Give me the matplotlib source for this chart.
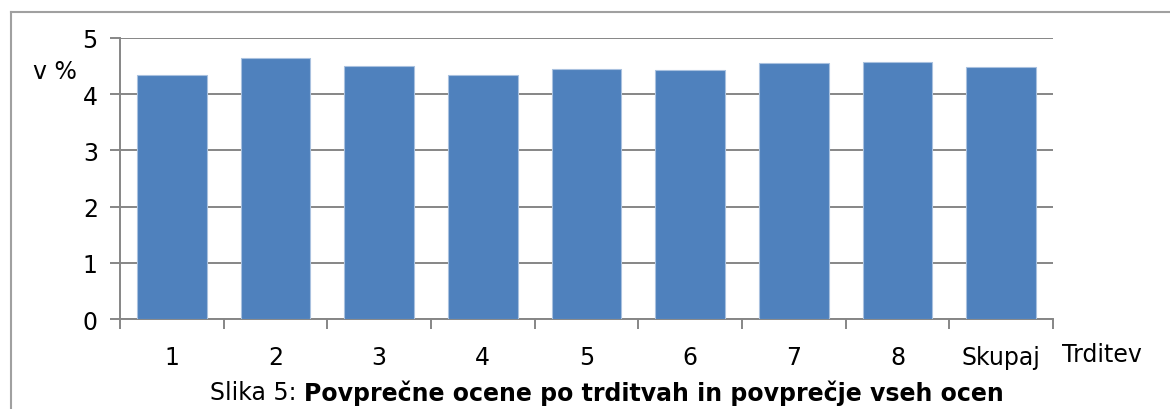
import matplotlib.pyplot as plt
import numpy as np

# povprečne ocene po trditvah
categories = ['1', '2', '3', '4', '5', '6', '7', '8', 'Skupaj']
values = [4.35, 4.64, 4.51, 4.35, 4.45, 4.43, 4.56, 4.57, 4.48]
y_ticks = [0, 1, 2, 3, 4, 5]

plt.rcParams['font.family'] = ['DejaVu Sans']
grid_col = '#868686'
fs = 17

fig = plt.figure(figsize=(11.7, 4.1), dpi=100)
ax = fig.add_axes([120 / 1170, 1 - 320 / 410, 933 / 1170, 281 / 410])

x = np.arange(len(categories))
ax.bar(x, values, width=0.67, color='#4F81BD', edgecolor='#A9C1DF', linewidth=0.8, zorder=3)

ax.set_xlim(-0.5, len(categories) - 0.5)
ax.set_ylim(0, 5)
ax.set_yticks(y_ticks)
ax.set_yticklabels([str(t) for t in y_ticks], fontsize=fs)
ax.yaxis.grid(True, color=grid_col, linewidth=1.4, zorder=0)

# oznake kategorij na sredini, kljukice na mejah
ax.set_xticks(x)
ax.set_xticklabels(categories, fontsize=fs)
ax.tick_params(axis='x', which='major', length=0, pad=19)
ax.set_xticks(np.arange(len(categories) + 1) - 0.5, minor=True)
ax.tick_params(axis='x', which='minor', length=7, width=1.4, color=grid_col)
ax.tick_params(axis='y', length=7, width=1.4, color=grid_col, pad=9)

for s in ['top', 'right']:
    ax.spines[s].set_visible(False)
for s in ['left', 'bottom']:
    ax.spines[s].set_color(grid_col)
    ax.spines[s].set_linewidth(1.4)

fig.text(33 / 1170, 1 - 72 / 410, 'v %', fontsize=fs, va='center', ha='left')
fig.text(1062 / 1170, 1 - 355 / 410, 'Trditev', fontsize=fs, va='center', ha='left')

t1 = fig.text(210 / 1170, 1 - 393 / 410, 'Slika 5: ', fontsize=fs, va='center', ha='left')
ax.annotate('Povprečne ocene po trditvah in povprečje vseh ocen', xy=(1, 0.5),
            xycoords=t1, va='center', ha='left', fontsize=fs, fontweight='bold',
            annotation_clip=False)

# okvir slike
fig.add_artist(plt.Line2D([11 / 1170, 11 / 1170], [0, 1 - 13 / 410], color='#A0A0A0', linewidth=1.5))
fig.add_artist(plt.Line2D([11 / 1170, 1], [1 - 13 / 410, 1 - 13 / 410], color='#A0A0A0', linewidth=1.5))

fig.savefig('out.png', dpi=100)
